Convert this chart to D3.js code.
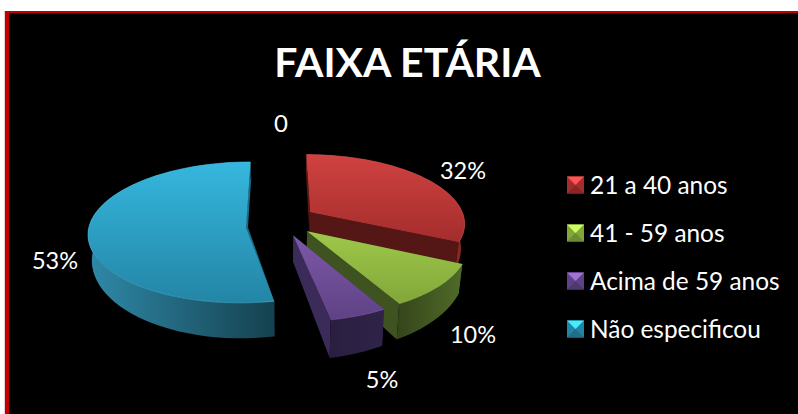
<!DOCTYPE html>
<html>
<head>
<meta charset="utf-8">
<script src="https://cdn.jsdelivr.net/npm/d3@7"></script>
<style>
html, body { margin: 0; padding: 0; background: #fff; overflow: hidden; }
text { font-family: Lato, "Open Sans", sans-serif; fill: #fff; }
</style>
</head>
<body>
<script>
var title = 'FAIXA ETÁRIA';
var seriesName = '0';
var categories = ['21 a 40 anos', '41 - 59 anos', 'Acima de 59 anos', 'Não especificou'];
var percents = [32, 10, 5, 53];

var width = 798, height = 414;

// one colour set per slice: top gradient, radial wall, outer wall gradient
var colours = [
	{ top: ['#cf4240', '#a42d2c'], wall: '#541715', outer: ['#6a1d1b', '#8a2825'], edge: '#d85a58' },
	{ top: ['#9ec94a', '#82a63a'], wall: '#3f5320', outer: ['#34451b', '#506b28'], edge: '#a8d055' },
	{ top: ['#7d58a8', '#5f4285'], wall: '#3a2b59', outer: ['#2a1e40', '#2f2348'], edge: '#8a66b5' },
	{ top: ['#36b7de', '#2385a6'], wall: '#1e6a85', outer: ['#2f89a9', '#15414f'], edge: '#4cc4e6' }
];
var labelAt = [[463, 179], [473, 343], [382, 388], [55, 269]];
var apexDrop = [0, 0, 0, 6]; // the big slice's corner sits a little lower

var cx = 281, cy = 220.5, R = 155, explode = 35;
var tilt = 0.442, persp = 0.00095, depth = 24;

var svg = d3.select('body').append('svg')
	.attr('width', width)
	.attr('height', height)
	.style('display', 'block');

// frame
svg.append('rect').attr('x', 4).attr('y', 11).attr('width', width).attr('height', height).attr('fill', '#eccccc');
svg.append('rect').attr('x', 5).attr('y', 11).attr('width', width).attr('height', height).attr('fill', '#c00000');
svg.append('rect').attr('x', 9).attr('y', 13).attr('width', width).attr('height', height).attr('fill', '#000');

var defs = svg.append('defs');
function gradient(id, stops, horizontal) {
	var g = defs.append('linearGradient').attr('id', id)
		.attr('x1', 0).attr('y1', 0)
		.attr('x2', horizontal ? 1 : 0).attr('y2', horizontal ? 0 : 1);
	g.append('stop').attr('offset', 0).attr('stop-color', stops[0]);
	g.append('stop').attr('offset', 1).attr('stop-color', stops[1]);
}

var arcs = d3.pie().sort(null).value(function(d) { return d; })(percents);

// plan position (radius r at angle a, pushed out along the slice middle) to screen
function project(d, a, r, z) {
	var mid = (d.startAngle + d.endAngle) / 2;
	var px = explode * Math.sin(mid) + r * Math.sin(a);
	var py = -explode * Math.cos(mid) - r * Math.cos(a);
	var k = 1 / (1 - persp * py);
	var sx = z ? 0.98 : 1;
	return [cx + px * k * sx, cy + tilt * py * k + z * depth * Math.pow(k, 2.4)];
}

var line = d3.line();

function rim(d, z) {
	return d3.range(0, 61).map(function(i) {
		return project(d, d.startAngle + (d.endAngle - d.startAngle) * i / 60, R, z);
	});
}

// paint back to front
[0, 3, 1, 2].forEach(function(i) {
	var d = arcs[i], c = colours[i];
	gradient('top' + i, c.top, false);
	gradient('outer' + i, c.outer, true);
	var g = svg.append('g');

	[d.startAngle, d.endAngle].forEach(function(a) {
		g.append('path')
			.attr('d', line([
				project(d, a, 0, 0), project(d, a, R, 0),
				project(d, a, R, 1), project(d, a, 0, 1)
			]) + 'Z')
			.attr('fill', c.wall);
	});

	var top = rim(d, 0), bottom = rim(d, 1);
	g.append('path')
		.attr('d', line(top.concat(bottom.slice().reverse())) + 'Z')
		.attr('fill', 'url(#outer' + i + ')');

	var apex = project(d, 0, 0, 0);
	apex[1] += apexDrop[i];
	g.append('path')
		.attr('d', line([apex].concat(top)) + 'Z')
		.attr('fill', 'url(#top' + i + ')');
	g.append('path')
		.attr('d', line(top))
		.attr('fill', 'none')
		.attr('stroke', c.edge)
		.attr('stroke-opacity', 0.5);
});

// title and labels
svg.append('text').attr('x', 407.5).attr('y', 77)
	.attr('text-anchor', 'middle')
	.attr('font-size', 41).attr('font-weight', 700)
	.text(title);
svg.append('text').attr('x', 281).attr('y', 132)
	.attr('text-anchor', 'middle').attr('font-size', 24)
	.text(seriesName);

svg.selectAll('.lab').data(percents).enter().append('text')
	.attr('class', 'lab')
	.attr('x', function(d, i) { return labelAt[i][0]; })
	.attr('y', function(d, i) { return labelAt[i][1]; })
	.attr('text-anchor', 'middle').attr('font-size', 23.5)
	.text(function(d) { return d + '%'; });

// legend
var legendY = d3.scalePoint().domain(categories).range([185, 329]);
var box = 8.5;
var legend = svg.selectAll('.leg').data(categories).enter().append('g')
	.attr('class', 'leg')
	.attr('transform', function(d) { return 'translate(575.5,' + legendY(d) + ')'; });
legend.each(function(d, i) {
	var g = d3.select(this), c = colours[i];
	var a = [-box, -box], b = [box, -box], e = [box, box], f = [-box, box], m = [0, 0];
	g.append('path').attr('d', line([a, b, e, f]) + 'Z').attr('fill', c.top[1]);
	g.append('path').attr('d', line([a, b, m]) + 'Z').attr('fill', d3.color(c.top[0]).brighter(0.7));
	g.append('path').attr('d', line([f, e, m]) + 'Z').attr('fill', d3.color(c.top[1]).darker(0.5));
	g.append('text').attr('x', 14.5).attr('y', 8.5).attr('font-size', 24.4).text(d);
});
</script>
</body>
</html>
